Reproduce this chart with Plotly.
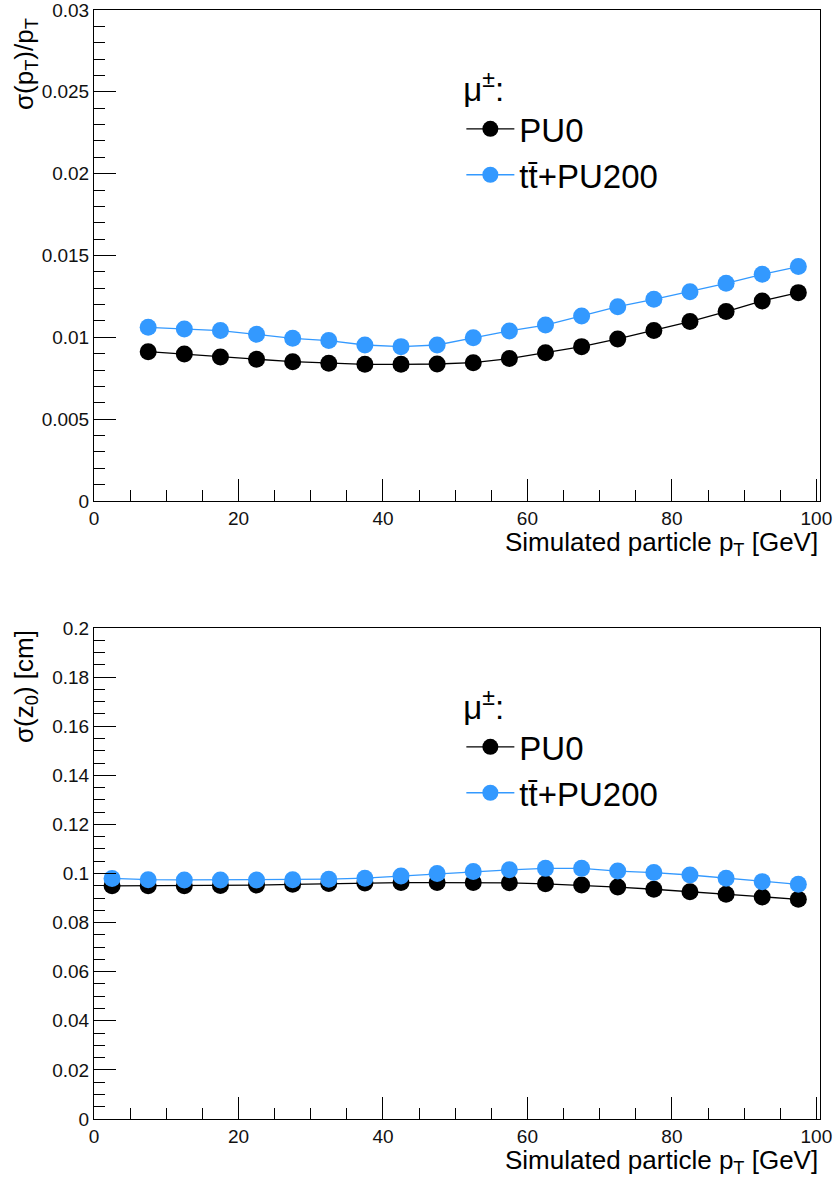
import plotly.graph_objects as go

# ---- data ----
pt_top = [7.5, 12.5, 17.5, 22.5, 27.5, 32.5, 37.5, 42.5, 47.5, 52.5,
          57.5, 62.5, 67.5, 72.5, 77.5, 82.5, 87.5, 92.5, 97.5]
res_pt_pu0 = [0.00912, 0.00898, 0.00880, 0.00866, 0.00851, 0.00841, 0.00835, 0.00835, 0.00837, 0.00845,
              0.00870, 0.00906, 0.00943, 0.00990, 0.01041, 0.01096, 0.01157, 0.01222, 0.01273]
res_pt_pu200 = [0.01061, 0.01051, 0.01041, 0.01018, 0.00994, 0.00980, 0.00953, 0.00943, 0.00953, 0.00997,
                0.01039, 0.01075, 0.01130, 0.01187, 0.01232, 0.01279, 0.01330, 0.01385, 0.01432]

pt_bot = [2.5, 7.5, 12.5, 17.5, 22.5, 27.5, 32.5, 37.5, 42.5, 47.5,
          52.5, 57.5, 62.5, 67.5, 72.5, 77.5, 82.5, 87.5, 92.5, 97.5]
res_z0_pu0 = [0.0950, 0.0950, 0.0950, 0.0951, 0.0953, 0.0956, 0.0959, 0.0961, 0.0963, 0.0963,
              0.0963, 0.0962, 0.0958, 0.0953, 0.0945, 0.0936, 0.0926, 0.0916, 0.0904, 0.0895]
res_z0_pu200 = [0.0980, 0.0975, 0.0974, 0.0974, 0.0974, 0.0975, 0.0977, 0.0981, 0.0990, 0.1000,
                0.1008, 0.1015, 0.1021, 0.1021, 0.1010, 0.1004, 0.0994, 0.0981, 0.0967, 0.0956]

names = ["PU0", "tt\u0304+PU200"]
colors = ["#000000", "#3399FF"]

FONT = "Liberation Sans, Arial, sans-serif"

fig = go.Figure()

for i, (ys, nm) in enumerate([(res_pt_pu0, names[0]), (res_pt_pu200, names[1])]):
    fig.add_trace(go.Scatter(x=pt_top, y=ys, name=nm, mode="lines+markers",
                             line=dict(color=colors[i], width=1.3),
                             marker=dict(color=colors[i], size=17),
                             xaxis="x", yaxis="y", legend="legend"))
for i, (ys, nm) in enumerate([(res_z0_pu0, names[0]), (res_z0_pu200, names[1])]):
    fig.add_trace(go.Scatter(x=pt_bot, y=ys, name=nm, mode="lines+markers",
                             line=dict(color=colors[i], width=1.3),
                             marker=dict(color=colors[i], size=17),
                             xaxis="x2", yaxis="y2", legend="legend2"))

axis_common = dict(showline=True, linecolor="black", linewidth=1, mirror=True,
                   ticks="inside", ticklen=22, tickcolor="black", tickwidth=1,
                   showgrid=False, zeroline=False, automargin=False,
                   ticklabeloverflow="allow",
                   tickfont=dict(family=FONT, size=19, color="#111"))

leg_common = dict(xanchor="left", yanchor="top", itemwidth=48,
                  title=dict(text="\u03bc<sup>\u00b1</sup>:", font=dict(size=33, family=FONT)),
                  font=dict(size=33, family=FONT), bgcolor="rgba(0,0,0,0)")

fig.update_layout(
    width=833, height=1182,
    margin=dict(l=94, r=13, t=10, b=63, autoexpand=False),
    paper_bgcolor="white", plot_bgcolor="white",
    font=dict(family=FONT, color="black"),
    xaxis=dict(domain=[0, 1], anchor="y", range=[0, 100.5], dtick=20,
               minor=dict(dtick=5, ticklen=11, ticks="inside", tickcolor="black"),
               **axis_common),
    yaxis=dict(domain=[0.5573, 1], anchor="x", range=[0, 0.03], dtick=0.005,
               minor=dict(dtick=0.001, ticklen=11, ticks="inside", tickcolor="black"),
               **axis_common),
    xaxis2=dict(domain=[0, 1], anchor="y2", range=[0, 100.5], dtick=20,
                minor=dict(dtick=5, ticklen=11, ticks="inside", tickcolor="black"),
                **axis_common),
    yaxis2=dict(domain=[0, 0.4427], anchor="x2", range=[0, 0.2], dtick=0.02,
                minor=dict(dtick=0.005, ticklen=11, ticks="inside", tickcolor="black"),
                **axis_common),
    legend=dict(x=0.506, y=(1119 - 58) / 1109, **leg_common),
    legend2=dict(x=0.506, y=(1119 - 676) / 1109, **leg_common),
    showlegend=True,
)

ann = [
    dict(text="Simulated particle p<sub>T</sub> [GeV]", xref="paper", yref="paper",
         x=1.0, y=(1119 - 525) / 1109, xanchor="right", yanchor="top", showarrow=False,
         font=dict(size=26, family=FONT)),
    dict(text="Simulated particle p<sub>T</sub> [GeV]", xref="paper", yref="paper",
         x=1.0, y=(1119 - 1143) / 1109, xanchor="right", yanchor="top", showarrow=False,
         font=dict(size=26, family=FONT)),
    dict(text="\u03c3(p<sub>T</sub>)/p<sub>T</sub>", xref="paper", yref="paper",
         x=-0.12, y=0.995, xanchor="left", yanchor="top", textangle=-90, showarrow=False,
         font=dict(size=26, family=FONT)),
    dict(text="\u03c3(z<sub>0</sub>) [cm]", xref="paper", yref="paper",
         x=-0.12, y=0.4427, xanchor="left", yanchor="top", textangle=-90, showarrow=False,
         font=dict(size=26, family=FONT)),
]
fig.update_layout(annotations=ann)

fig.write_html("out.html",
               config={"displayModeBar": False},
               post_script="document.body.style.margin='0';document.body.style.padding='0';")
